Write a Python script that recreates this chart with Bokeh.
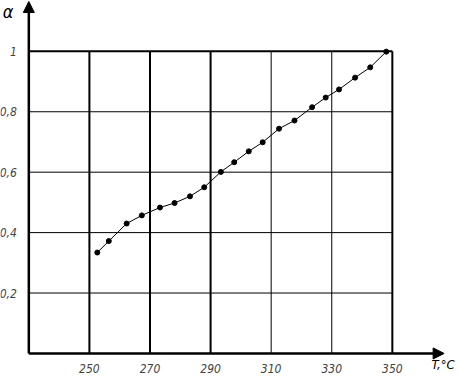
from bokeh.plotting import figure
from bokeh.models import (Arrow, NormalHead, LinearAxis, FixedTicker,
                          CustomJSTickFormatter, Range1d, ColumnDataSource)
from bokeh.core.properties import value
from bokeh.embed import file_html
from bokeh.resources import INLINE

# ---- data ----
temperature = [252.6, 256.4, 262.3, 267.3, 273.3, 278.1, 283.2, 287.9, 293.4, 297.8,
               302.6, 307.2, 312.6, 317.7, 323.5, 328.0, 332.4, 337.7, 342.7, 348.0]
alpha = [0.334, 0.372, 0.430, 0.457, 0.483, 0.498, 0.520, 0.550, 0.601, 0.633,
         0.669, 0.699, 0.744, 0.771, 0.815, 0.847, 0.874, 0.913, 0.947, 0.999]
t_ticks = [250, 270, 290, 310, 330, 350]
a_ticks = [0.2, 0.4, 0.6, 0.8, 1.0]
t_min, a_min = 230, 0.0
x_title = "T,°C"
y_title = "α"

FONT = "'DejaVu Sans Condensed', 'Liberation Sans Narrow', 'DejaVu Sans', sans-serif"

p = figure(width=459, height=375,
           x_range=Range1d(220.65, 372.17), y_range=Range1d(-0.073, 1.1683),
           x_axis_type=None, y_axis_type=None,
           output_backend="svg", toolbar_location=None, min_border=0)
p.outline_line_color = None
p.background_fill_color = "white"
p.border_fill_color = "white"

# ---- grid ----
thick_t = [t for t in t_ticks if t in (250, 270, 290, 350)]
thin_t = [t for t in t_ticks if t not in thick_t]
a_top = max(a_ticks)
t_right = max(t_ticks)
p.segment(x0=thick_t, y0=[a_min] * len(thick_t), x1=thick_t, y1=[a_top] * len(thick_t),
          line_color="black", line_width=2)
p.segment(x0=thin_t, y0=[a_min] * len(thin_t), x1=thin_t, y1=[a_top] * len(thin_t),
          line_color="black", line_width=1)
thick_a = [a for a in a_ticks if a == a_top]
thin_a = [a for a in a_ticks if a != a_top]
p.segment(x0=[t_min] * len(thin_a), y0=thin_a, x1=[t_right] * len(thin_a), y1=thin_a,
          line_color="black", line_width=1)
p.segment(x0=[t_min] * len(thick_a), y0=thick_a, x1=[t_right] * len(thick_a), y1=thick_a,
          line_color="black", line_width=2)

# ---- axes lines with arrows ----
p.add_layout(Arrow(end=NormalHead(size=11, fill_color="black", line_color="black"),
                   x_start=t_min, y_start=a_min, x_end=367.1, y_end=a_min,
                   line_color="black", line_width=2.5))
p.add_layout(Arrow(end=NormalHead(size=11, fill_color="black", line_color="black"),
                   x_start=t_min, y_start=a_min, x_end=t_min, y_end=1.165,
                   line_color="black", line_width=2.5))

# ---- tick labels via axes fixed at data locations ----
xaxis = LinearAxis(fixed_location=a_min, ticker=FixedTicker(ticks=t_ticks),
                   axis_line_color=None, major_tick_line_color=None,
                   minor_tick_line_color=None, major_label_standoff=5,
                   major_label_text_font_size="12px",
                   major_label_text_font_style="italic",
                   major_label_text_font=FONT)
p.add_layout(xaxis, "below")
yaxis = LinearAxis(fixed_location=t_min, ticker=FixedTicker(ticks=a_ticks),
                   formatter=CustomJSTickFormatter(
                       code="return tick > 0.999 ? '1' : tick.toFixed(1).replace('.', ',');"),
                   axis_line_color=None, major_tick_line_color=None,
                   minor_tick_line_color=None, major_label_standoff=6,
                   major_label_text_font_size="12px",
                   major_label_text_font_style="italic",
                   major_label_text_font=FONT)
p.add_layout(yaxis, "left")

# ---- data curve and points ----
src = ColumnDataSource(dict(t=temperature, a=alpha))
p.line("t", "a", source=src, line_color="black", line_width=1)
p.scatter("t", "a", source=src, size=5, fill_color="black", line_color="black")

# ---- axis titles ----
p.text(x=[370.6], y=[a_min], text=[x_title], text_align="right", text_baseline="top",
       y_offset=4, text_font=value(FONT), text_font_size="13px",
       text_font_style="italic", text_color="black")
p.text(x=[221.4], y=[1.165], text=[y_title], text_align="left", text_baseline="top",
       text_font=value(FONT), text_font_size="18px",
       text_font_style="italic", text_color="black")

open("out.html", "w").write(file_html(p, INLINE))
